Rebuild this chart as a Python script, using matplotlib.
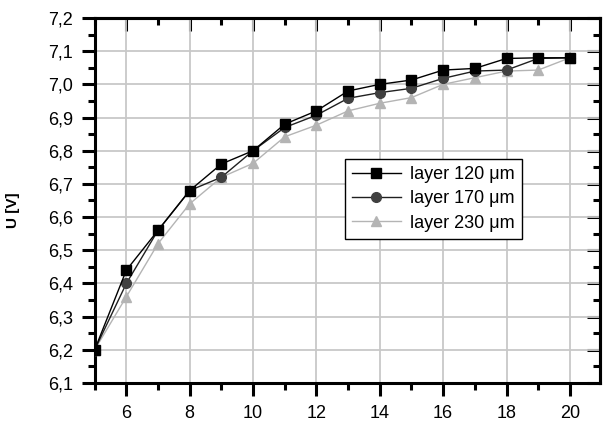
import numpy as np
import matplotlib.pyplot as plt
from matplotlib.ticker import MultipleLocator, FuncFormatter

# 데이터
x = [5, 6, 7, 8, 9, 10, 11, 12, 13, 14, 15, 16, 17, 18, 19, 20]
u_120 = [6.20, 6.44, 6.56, 6.68, 6.76, 6.80, 6.88, 6.92, 6.98, 7.00, 7.013, 7.043, 7.048, 7.078, 7.08, 7.08]
u_170 = [6.20, 6.40, 6.56, 6.68, 6.72, 6.80, 6.87, 6.907, 6.958, 6.975, 6.988, 7.018, 7.04, 7.043, 7.078, 7.08]
u_230 = [6.20, 6.36, 6.52, 6.64, 6.72, 6.762, 6.842, 6.877, 6.92, 6.943, 6.96, 7.00, 7.02, 7.04, 7.043, 7.08]
labels = ['layer 120 \u03bcm', 'layer 170 \u03bcm', 'layer 230 \u03bcm']

plt.rcParams['font.family'] = ['Liberation Sans', 'DejaVu Sans']

fig = plt.figure(figsize=(6.03, 4.23), dpi=100)
ax = fig.add_axes([0.157, 0.0946, 0.838, 0.8629])

ax.plot(x, u_120, color='black', lw=1.0, marker='s', ms=6.5, mfc='black', mec='black', label=labels[0], zorder=5)
ax.plot(x, u_170, color='#202020', lw=1.0, marker='o', ms=7, mfc='#404040', mec='#404040', label=labels[1], zorder=4)
ax.plot(x, u_230, color='#b4b4b4', lw=1.0, marker='^', ms=7.5, mfc='#b4b4b4', mec='#b4b4b4', label=labels[2], zorder=3)

ax.set_xlim(5, 20.95)
ax.set_ylim(6.1, 7.2)
ax.xaxis.set_major_locator(MultipleLocator(2))
ax.xaxis.set_minor_locator(MultipleLocator(1))
ax.yaxis.set_major_locator(MultipleLocator(0.1))
ax.yaxis.set_minor_locator(MultipleLocator(0.05))
ax.xaxis.set_major_formatter(FuncFormatter(lambda v, p: '' if v < 5.5 else '%d' % round(v)))
ax.yaxis.set_major_formatter(FuncFormatter(lambda v, p: ('%.1f' % v).replace('.', ',')))

ax.grid(True, which='major', color='#c8c8c8', lw=1.3, zorder=0)
ax.set_axisbelow(True)

for s in ax.spines.values():
    s.set_linewidth(2.2)
ax.tick_params(which='both', direction='out', width=2.2, labelsize=13, colors='black')
ax.tick_params(which='major', length=9.5, pad=6)
ax.tick_params(which='minor', length=5)

# 위/오른쪽 눈금 (안쪽)
top = ax.secondary_xaxis('top')
top.xaxis.set_major_locator(MultipleLocator(2))
top.xaxis.set_minor_locator(MultipleLocator(1))
top.tick_params(which='both', direction='in', width=2.2, labeltop=False)
top.tick_params(which='major', length=9.5)
top.tick_params(which='minor', length=5)
top.spines['top'].set_linewidth(2.2)
right = ax.secondary_yaxis('right')
right.yaxis.set_major_locator(MultipleLocator(0.1))
right.yaxis.set_minor_locator(MultipleLocator(0.05))
right.tick_params(which='both', direction='in', width=2.2, labelright=False)
right.tick_params(which='major', length=9.5)
right.tick_params(which='minor', length=5)
right.spines['right'].set_linewidth(2.2)

ax.set_ylabel('U [V]', fontsize=11, fontweight='bold')
ax.yaxis.set_label_coords(-0.147, 0.474)

leg = ax.legend(loc='upper left', bbox_to_anchor=(0.495, 0.614), fontsize=13,
                frameon=True, fancybox=False, edgecolor='black', framealpha=1,
                handlelength=2.7, handletextpad=0.5, borderpad=0.4, labelspacing=0.4,
                borderaxespad=0)
leg.get_frame().set_linewidth(1.0)

fig.savefig('out.png', dpi=100)
